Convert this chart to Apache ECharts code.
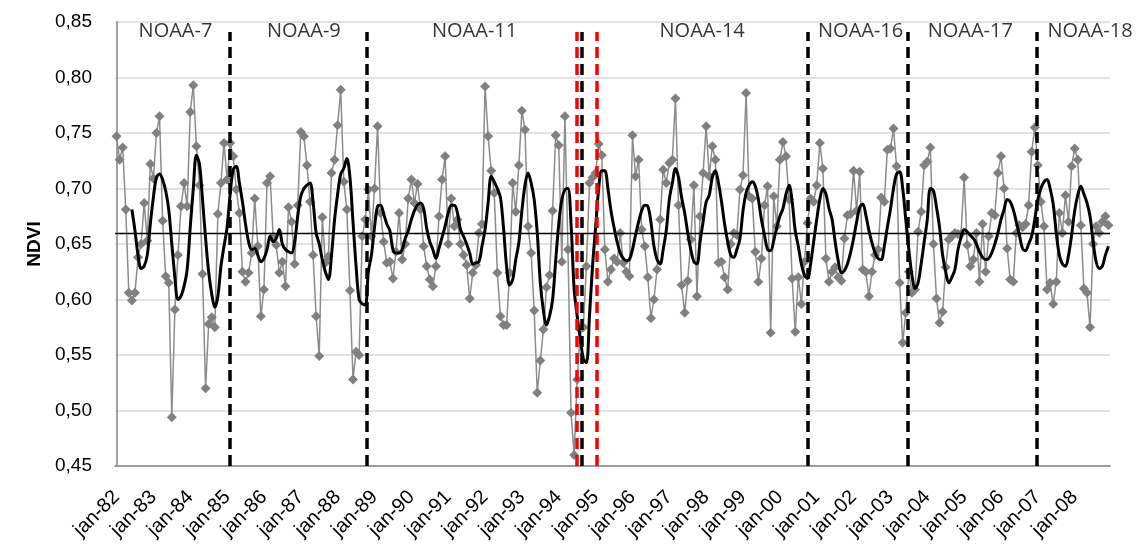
<!DOCTYPE html>
<html>
<head>
<meta charset="utf-8">
<script src="https://cdn.jsdelivr.net/npm/echarts@6/dist/echarts.min.js"></script>
<style>
html,body{margin:0;padding:0;background:#fff;}
#main{width:1136px;height:553px;}
</style>
</head>
<body>
<div id="main"></div>
<script>
// ---- data ----
const firstYear = 1982;
const lastYear = 2008;
const monthNames = ['jan','feb','mar','apr','mai','jun','jul','aug','sep','okt','nov','des'];

// Monthly NDVI (jan-82 ... dec-08)
const ndviMonthly = [
  0.747,0.726,0.737,0.681,0.606,0.599,0.606,0.638,0.650,0.687,0.653,0.722,
  0.709,0.750,0.765,0.671,0.621,0.615,0.494,0.591,0.640,0.684,0.705,0.684,
  0.769,0.793,0.738,0.703,0.623,0.520,0.578,0.584,0.575,0.677,0.705,0.741,
  0.708,0.741,0.729,0.699,0.678,0.625,0.616,0.624,0.642,0.691,0.648,0.585,
  0.609,0.705,0.711,0.657,0.649,0.624,0.634,0.612,0.683,0.670,0.632,0.685,
  0.751,0.747,0.721,0.688,0.640,0.585,0.549,0.674,0.633,0.639,0.714,0.726,
  0.757,0.789,0.706,0.681,0.608,0.528,0.553,0.550,0.657,0.672,0.699,0.657,
  0.700,0.756,0.678,0.652,0.633,0.634,0.619,0.643,0.678,0.636,0.650,0.691,
  0.708,0.687,0.704,0.681,0.648,0.630,0.618,0.612,0.630,0.675,0.708,0.729,
  0.650,0.691,0.666,0.672,0.650,0.640,0.631,0.601,0.624,0.631,0.660,0.668,
  0.792,0.747,0.716,0.696,0.624,0.585,0.577,0.577,0.624,0.705,0.679,0.721,
  0.770,0.753,0.666,0.642,0.590,0.516,0.545,0.573,0.611,0.622,0.680,0.748,
  0.739,0.634,0.765,0.645,0.498,0.460,0.528,0.573,0.575,0.630,0.705,0.710,
  0.714,0.740,0.730,0.645,0.616,0.627,0.637,0.634,0.660,0.633,0.625,0.621,
  0.748,0.711,0.726,0.663,0.648,0.620,0.583,0.600,0.627,0.672,0.717,0.705,
  0.723,0.726,0.781,0.685,0.613,0.588,0.617,0.654,0.703,0.603,0.675,0.714,
  0.756,0.711,0.738,0.726,0.633,0.634,0.620,0.609,0.650,0.660,0.658,0.699,
  0.712,0.786,0.693,0.691,0.643,0.616,0.637,0.685,0.702,0.570,0.693,0.666,
  0.726,0.742,0.729,0.690,0.619,0.571,0.620,0.596,0.634,0.669,0.691,0.688,
  0.703,0.741,0.718,0.637,0.616,0.625,0.629,0.620,0.617,0.655,0.676,0.677,
  0.716,0.680,0.715,0.627,0.625,0.603,0.625,0.640,0.645,0.692,0.688,0.735,
  0.736,0.754,0.720,0.615,0.561,0.588,0.625,0.606,0.609,0.661,0.679,0.721,
  0.724,0.737,0.650,0.601,0.579,0.589,0.629,0.654,0.657,0.660,0.659,0.659,
  0.710,0.649,0.630,0.636,0.660,0.616,0.668,0.625,0.657,0.678,0.676,0.714,
  0.729,0.700,0.646,0.618,0.616,0.660,0.667,0.665,0.668,0.685,0.733,0.755,
  0.721,0.688,0.666,0.609,0.615,0.596,0.616,0.678,0.660,0.694,0.670,0.720,
  0.736,0.726,0.667,0.610,0.606,0.575,0.650,0.666,0.660,0.670,0.675,0.667
];

// Smoothed NDVI (black curve), starts in jun-82
const ndviSmooth = [
  null,null,null,null,null,0.681,0.662,0.640,0.628,0.630,0.640,0.668,
  0.692,0.710,0.713,0.708,0.698,0.681,0.650,0.620,0.600,0.603,0.612,0.627,
  0.665,0.700,0.730,0.722,0.690,0.655,0.625,0.605,0.593,0.603,0.630,0.648,
  0.665,0.695,0.717,0.720,0.705,0.688,0.668,0.652,0.645,0.646,0.640,0.634,
  0.637,0.645,0.657,0.652,0.655,0.663,0.650,0.645,0.643,0.642,0.652,0.675,
  0.693,0.700,0.703,0.705,0.688,0.660,0.650,0.636,0.625,0.618,0.640,0.672,
  0.695,0.713,0.718,0.727,0.710,0.670,0.630,0.600,0.596,0.595,0.625,0.640,
  0.665,0.684,0.685,0.677,0.668,0.662,0.645,0.642,0.642,0.645,0.655,0.662,
  0.672,0.680,0.685,0.687,0.682,0.664,0.652,0.645,0.637,0.646,0.656,0.666,
  0.678,0.685,0.685,0.678,0.663,0.657,0.650,0.642,0.632,0.633,0.634,0.648,
  0.663,0.687,0.711,0.706,0.700,0.692,0.665,0.630,0.613,0.618,0.636,0.651,
  0.680,0.703,0.714,0.705,0.690,0.660,0.615,0.590,0.577,0.585,0.600,0.635,
  0.668,0.690,0.699,0.700,0.668,0.610,0.585,0.565,0.547,0.543,0.585,0.630,
  0.665,0.700,0.716,0.716,0.700,0.680,0.665,0.652,0.642,0.637,0.635,0.636,
  0.645,0.658,0.670,0.680,0.685,0.684,0.670,0.648,0.636,0.632,0.645,0.662,
  0.690,0.705,0.718,0.710,0.692,0.678,0.660,0.645,0.634,0.632,0.652,0.670,
  0.688,0.694,0.710,0.716,0.705,0.688,0.668,0.652,0.640,0.638,0.645,0.655,
  0.680,0.696,0.703,0.706,0.702,0.690,0.672,0.658,0.645,0.644,0.653,0.665,
  0.675,0.682,0.695,0.703,0.688,0.662,0.648,0.632,0.622,0.619,0.632,0.652,
  0.672,0.690,0.700,0.695,0.682,0.672,0.652,0.635,0.624,0.626,0.632,0.642,
  0.655,0.670,0.683,0.686,0.676,0.662,0.651,0.642,0.637,0.636,0.648,0.665,
  0.681,0.700,0.713,0.715,0.700,0.672,0.645,0.622,0.610,0.615,0.632,0.652,
  0.672,0.700,0.698,0.683,0.665,0.640,0.625,0.615,0.620,0.627,0.645,0.656,
  0.663,0.661,0.658,0.655,0.650,0.643,0.638,0.636,0.637,0.642,0.650,0.660,
  0.672,0.681,0.690,0.688,0.681,0.670,0.658,0.646,0.644,0.650,0.657,0.672,
  0.690,0.700,0.706,0.708,0.700,0.686,0.660,0.640,0.632,0.630,0.640,0.658,
  0.680,0.694,0.702,0.695,0.687,0.675,0.652,0.634,0.628,0.630,0.640,0.648
];

const meanNdvi = 0.662;

// sensor change positions (in month index units) and line colours
const sensorChanges = [
  {at: 37.0, color: '#000000'},
  {at: 81.6, color: '#000000'},
  {at: 149.7, color: '#ff0000'},
  {at: 151.6, color: '#000000'},
  {at: 156.5, color: '#ff0000'},
  {at: 225.2, color: '#000000'},
  {at: 257.8, color: '#000000'},
  {at: 299.5, color: '#000000'}
];
const sensorNames = ['NOAA-7','NOAA-9','NOAA-11','NOAA-14','NOAA-16','NOAA-17','NOAA-18'];
const sensorLabelAt = [19.2, 61.0, 116.6, 190.7, 242.3, 278.0, 317.0];

const yTicks = {min: 0.45, max: 0.85, step: 0.05};

// ---- build ----
const categories = [];
for (let y = firstYear; y <= lastYear; y++) {
  for (let m = 0; m < 12; m++) {
    categories.push(monthNames[m] + '-' + String(y).slice(2));
  }
}

const chart = echarts.init(document.getElementById('main'));
const FONT = "'Liberation Sans', Arial, sans-serif";

const option = {
  animation: false,
  backgroundColor: '#fff',
  grid: {left: 115, right: 26, top: 22, bottom: 87},
  xAxis: [{
    type: 'category',
    data: categories,
    boundaryGap: true,
    axisLine: {show: true, lineStyle: {color: '#868686', width: 1.5}},
    axisTick: {show: false},
    splitLine: {show: false},
    axisLabel: {
      interval: 11, rotate: 45, margin: 28,
      fontSize: 20, fontFamily: FONT, color: '#000'
    }
  }, {
    type: 'value', min: -0.5, max: categories.length - 0.5, show: false
  }],
  yAxis: {
    type: 'value',
    min: yTicks.min, max: yTicks.max, interval: yTicks.step,
    name: 'NDVI', nameLocation: 'middle', nameGap: 49, nameRotate: 90,
    nameTextStyle: {fontSize: 19, fontWeight: 'bold', fontFamily: FONT, color: '#000'},
    axisLine: {show: true, lineStyle: {color: '#868686', width: 1.5}},
    axisTick: {show: false},
    splitLine: {show: true, lineStyle: {color: '#d9d9d9', width: 1.5}},
    axisLabel: {
      margin: 23, fontSize: 19, fontFamily: FONT, color: '#000',
      formatter: v => v.toFixed(2).replace('.', ',')
    }
  },
  series: [
    {
      name: 'NDVI',
      type: 'line',
      data: ndviMonthly,
      symbol: 'diamond',
      symbolSize: 10,
      showAllSymbol: true,
      lineStyle: {color: '#8c8c8c', width: 1.5},
      itemStyle: {color: '#808080'},
      z: 2,
      markLine: {
        silent: true, symbol: 'none', label: {show: false},
        lineStyle: {color: '#000', width: 1.3, type: 'solid'},
        data: [{yAxis: meanNdvi}],
        z: 3
      }
    },
    {
      name: 'smooth',
      type: 'line',
      data: ndviSmooth,
      showSymbol: false,
      smooth: 0.35,
      lineStyle: {color: '#000', width: 3},
      z: 4
    },
    {
      name: 'sensors',
      type: 'line',
      xAxisIndex: 1,
      data: [],
      z: 5,
      markLine: {
        silent: true, symbol: 'none', label: {show: false},
        data: sensorChanges.map(s => [
          {coord: [s.at, yTicks.min], lineStyle: {color: s.color, width: 3.5, type: [11, 6]}},
          {coord: [s.at, 0.841]}
        ])
      }
    },
    {
      name: 'labels',
      type: 'scatter',
      xAxisIndex: 1,
      symbolSize: 0,
      clip: false,
      z: 6,
      data: sensorNames.map((n, i) => ({value: [sensorLabelAt[i], 0.842], name: n})),
      label: {
        show: true, position: 'inside', formatter: p => p.name,
        fontSize: 20, fontFamily: "'Open Sans', sans-serif", color: '#000'
      }
    }
  ]
};
chart.setOption(option);
</script>
</body>
</html>
